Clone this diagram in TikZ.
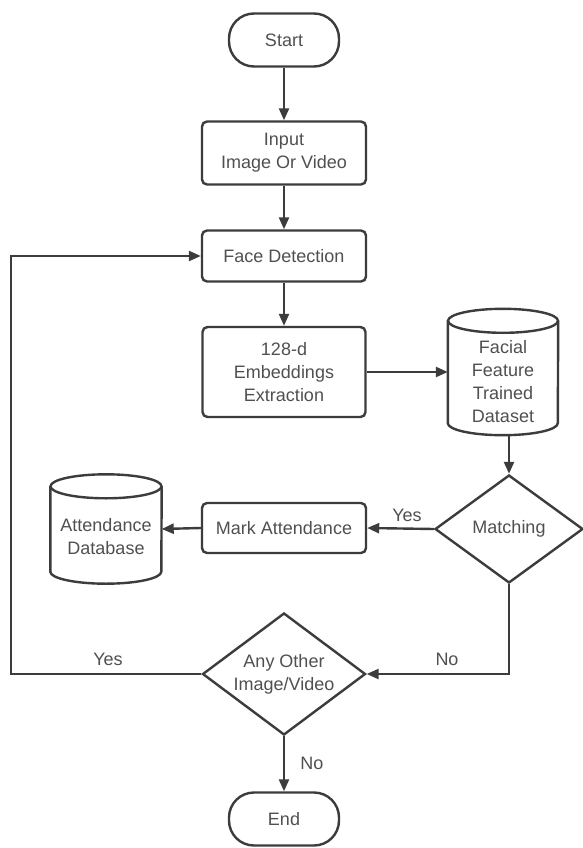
\documentclass[tikz,border=0pt]{standalone}
\usepackage{fontspec}
\setmainfont{Liberation Sans}
\usetikzlibrary{shapes.geometric,arrows.meta,calc}
\definecolor{linec}{HTML}{3C3C3C}
\definecolor{textc}{HTML}{505050}
\tikzset{
  base/.style={inner sep=0pt, align=center, text=textc, font=\fontsize{18}{23}\selectfont},
  procbox/.style={base, draw=linec, line width=2.4pt, fill=white, rounded corners=5pt},
  termbox/.style={base, draw=linec, line width=2.4pt, fill=white, rounded corners=25pt, minimum width=110pt, minimum height=53pt},
  decision/.style={shape=diamond, draw=linec, line width=2.4pt, fill=white, inner sep=0pt},
  cylbox/.style={base},
  txt/.style={base},
  lbl/.style={base},
  conn/.style={draw=linec, line width=2.4pt, -{Triangle[length=12pt,width=10pt]}},
  cylline/.style={draw=linec, line width=2.4pt}
}
\begin{document}
\begin{tikzpicture}[x=1pt,y=-1pt,line join=miter]
\useasboundingbox[fill=white] (0,0) rectangle (582,848);
% nodes
\node[termbox] (start) at (284,40) {Start};
\node[procbox, minimum width=164pt, minimum height=63pt] (input) at (284,153) {Input\\Image Or Video};
\node[procbox, minimum width=164pt, minimum height=51pt] (face) at (284,256) {Face Detection};
\node[procbox, minimum width=163pt, minimum height=90pt] (emb) at (284,372) {128-d\\Embeddings\\Extraction};
% facial cylinder
\node[cylbox, minimum width=110pt, minimum height=126pt] (facial) at (503,372) {};
\fill[white] ($(facial.north west)+(0,12)$) rectangle ($(facial.south east)+(0,-12)$);
\fill[white] ($(facial.north)+(0,12)$) ellipse[x radius=55pt, y radius=12pt];
\fill[white] ($(facial.south)+(0,-12)$) ellipse[x radius=55pt, y radius=12pt];
\draw[cylline] ($(facial.north west)+(0,12)$) -- ($(facial.south west)+(0,-12)$)
   arc[start angle=180, end angle=360, x radius=55pt, y radius=12pt] -- ($(facial.north east)+(0,12)$);
\draw[cylline] ($(facial.north)+(0,12)$) ellipse[x radius=55pt, y radius=12pt];
\node[txt] (facialtxt) at ($(facial.center)+(0,10)$) {Facial\\Feature\\Trained\\Dataset};
% matching
\node[decision, minimum width=148pt, minimum height=108pt] (match) at (509,529) {};
\node[txt] (matchtxt) at (match.center) {Matching};
\node[procbox, minimum width=164pt, minimum height=50pt] (mark) at (284,528) {Mark Attendance};
% attendance cylinder
\node[cylbox, minimum width=111pt, minimum height=109pt] (attdb) at (106,529) {};
\fill[white] ($(attdb.north west)+(0,12)$) rectangle ($(attdb.south east)+(0,-12)$);
\fill[white] ($(attdb.north)+(0,12)$) ellipse[x radius=55.5pt, y radius=12pt];
\fill[white] ($(attdb.south)+(0,-12)$) ellipse[x radius=55.5pt, y radius=12pt];
\draw[cylline] ($(attdb.north west)+(0,12)$) -- ($(attdb.south west)+(0,-12)$)
   arc[start angle=180, end angle=360, x radius=55.5pt, y radius=12pt] -- ($(attdb.north east)+(0,12)$);
\draw[cylline] ($(attdb.north)+(0,12)$) ellipse[x radius=55.5pt, y radius=12pt];
\node[txt] (attdbtxt) at ($(attdb.center)+(0,8)$) {Attendance\\Database};
% other decision
\node[decision, minimum width=163pt, minimum height=122pt] (other) at (284,674) {};
\node[txt] (othertxt) at (other.center) {Any Other\\Image/Video};
\node[termbox] (end) at (284,819) {End};
\coordinate (loopc) at (11,674);
% connectors
\draw[conn] (start) -- (input);
\draw[conn] (input) -- (face);
\draw[conn] (face) -- (emb);
\draw[conn] (emb.east) -- (facial.west);
\draw[conn] (facial.south -| match.north) -- (match.north);
\draw[conn] (match.west) -- (mark.east);
\draw[conn] (mark.west) -- (attdb.east);
\draw[conn] (match.south) |- (other.east);
\draw[conn] (other.west) -- (loopc) |- (face.west);
\draw[conn] (other.south) -- (end.north);
% labels
\node[lbl] (lyes1) at (407,515) {Yes};
\node[lbl] (lno1) at (447,659) {No};
\node[lbl] (lyes2) at (108,659) {Yes};
\node[lbl] (lno2) at (312,763) {No};
\end{tikzpicture}
\end{document}
